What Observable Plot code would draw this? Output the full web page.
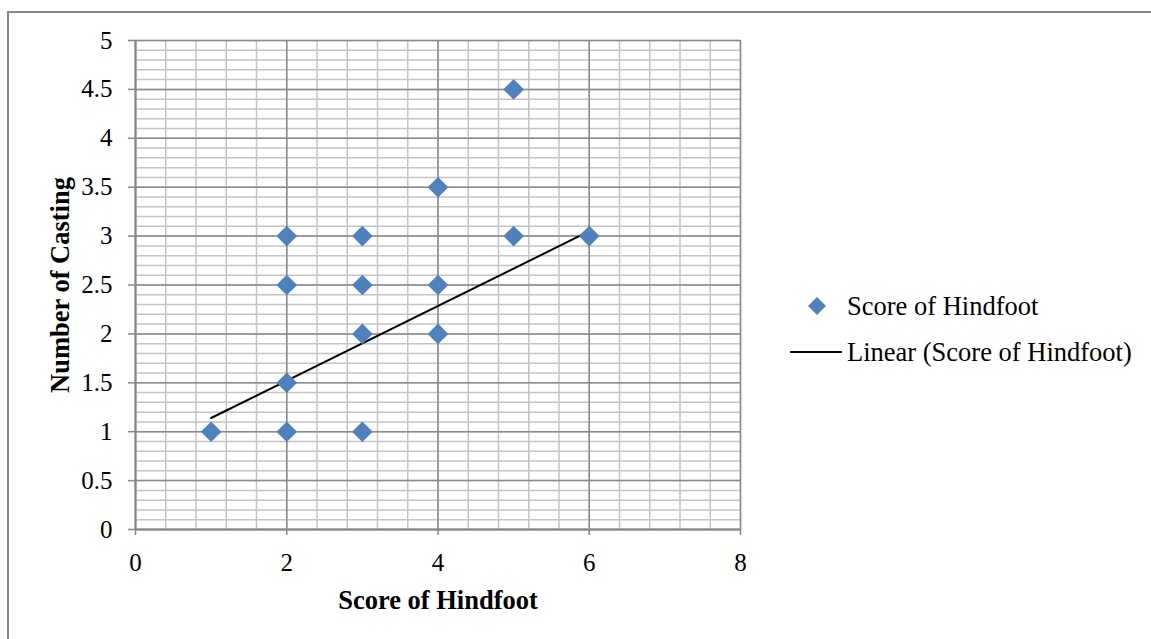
<!DOCTYPE html>
<html><head><meta charset="utf-8">
<script src="https://cdn.jsdelivr.net/npm/d3@7"></script>
<script src="https://cdn.jsdelivr.net/npm/@observablehq/plot@0.6"></script>
<style>
body{margin:0;background:#fff;}
#wrap{position:relative;width:1151px;height:639px;overflow:hidden;font-family:"Liberation Serif","Times New Roman",serif;background:#fff;}
#border{position:absolute;left:7px;top:11px;width:1200px;height:700px;border:2px solid #888;box-sizing:border-box;}
#chart{position:absolute;left:0;top:0;}
.leg{position:absolute;font-size:26.5px;color:#000;white-space:nowrap;line-height:1;}
#chart g[aria-label$="tick label"]{font-size:25px !important;}
#chart g[aria-label$="tick label"] text{font-size:25px !important;}
</style></head>
<body>
<div id="wrap">
  <div id="border"></div>
  <div id="chart"></div>
  <svg class="leg" style="left:806px;top:295px" width="22" height="22"><path d="M11,2 L20,11 L11,20 L2,11 Z" fill="#4f81bd"/></svg>
  <div class="leg" style="left:847px;top:293px">Score of Hindfoot</div>
  <svg class="leg" style="left:790px;top:342px" width="56" height="20"><line x1="0" y1="10" x2="52" y2="10" stroke="#000" stroke-width="2"/></svg>
  <div class="leg" style="left:847px;top:339px">Linear (Score of Hindfoot)</div>
</div>
<script>
// data
const scoreX = [1, 2, 3, 2, 2, 2, 3, 3, 3, 4, 4, 4, 5, 5, 6];
const castingY = [1, 1, 1, 1.5, 2.5, 3, 2, 2.5, 3, 2, 2.5, 3.5, 3, 4.5, 3];
const trendX = [1, 6];
const trendY = [1.14, 3.05];
const xTicks = [0, 2, 4, 6, 8];
const yTicks = [0, 0.5, 1, 1.5, 2, 2.5, 3, 3.5, 4, 4.5, 5];
const xMinor = d3.range(0, 8.001, 0.4);
const yMinor = d3.range(0, 5.001, 0.1);

const points = scoreX.map((x, i) => ({x, y: castingY[i]}));
const trend = trendX.map((x, i) => ({x, y: trendY[i]}));

const chart = Plot.plot({
  width: 1151, height: 639,
  marginLeft: 135, marginRight: 411, marginTop: 40, marginBottom: 110,
  style: {fontFamily: "'Liberation Serif','Times New Roman',serif", fontSize: "25px", background: "transparent", color: "#000", overflow: "visible"},
  x: {domain: [0, 8]},
  y: {domain: [0, 5]},
  marks: [
    Plot.ruleY(yMinor, {stroke: "#c4c4c4", strokeWidth: 1.5}),
    Plot.ruleX(xMinor, {stroke: "#c4c4c4", strokeWidth: 1.5}),
    Plot.ruleY(yTicks, {stroke: "#8a8a8a", strokeWidth: 1.5}),
    Plot.ruleX(xTicks, {stroke: "#8a8a8a", strokeWidth: 1.5}),
    Plot.ruleX([0], {stroke: "#868686", strokeWidth: 2}),
    Plot.ruleY([0], {stroke: "#868686", strokeWidth: 2}),
    Plot.axisX({ticks: xTicks, tickFormat: d => String(d), tickSize: 6, tickPadding: 18, stroke: "#868686", strokeWidth: 1.5, label: null, fontSize: 25}),
    Plot.axisY({ticks: yTicks, tickFormat: d => String(d), tickSize: 7, tickPadding: 16, stroke: "#868686", strokeWidth: 1.5, label: null, fontSize: 25}),
    Plot.text(["Score of Hindfoot"], {frameAnchor: "bottom", dy: 71, fontWeight: "bold", fontSize: 26.5, lineAnchor: "middle"}),
    Plot.text(["Number of Casting"], {frameAnchor: "left", dx: -75, rotate: -90, textAnchor: "middle", fontWeight: "bold", fontSize: 26.5, lineAnchor: "middle"}),
    Plot.line(trend, {x: "x", y: "y", stroke: "#000", strokeWidth: 2}),
    Plot.dot(points, {x: "x", y: "y", symbol: "diamond2", r: 9.3, fill: "#4f81bd", stroke: "none"})
  ]
});
document.getElementById("chart").appendChild(chart);
</script>
</body></html>
